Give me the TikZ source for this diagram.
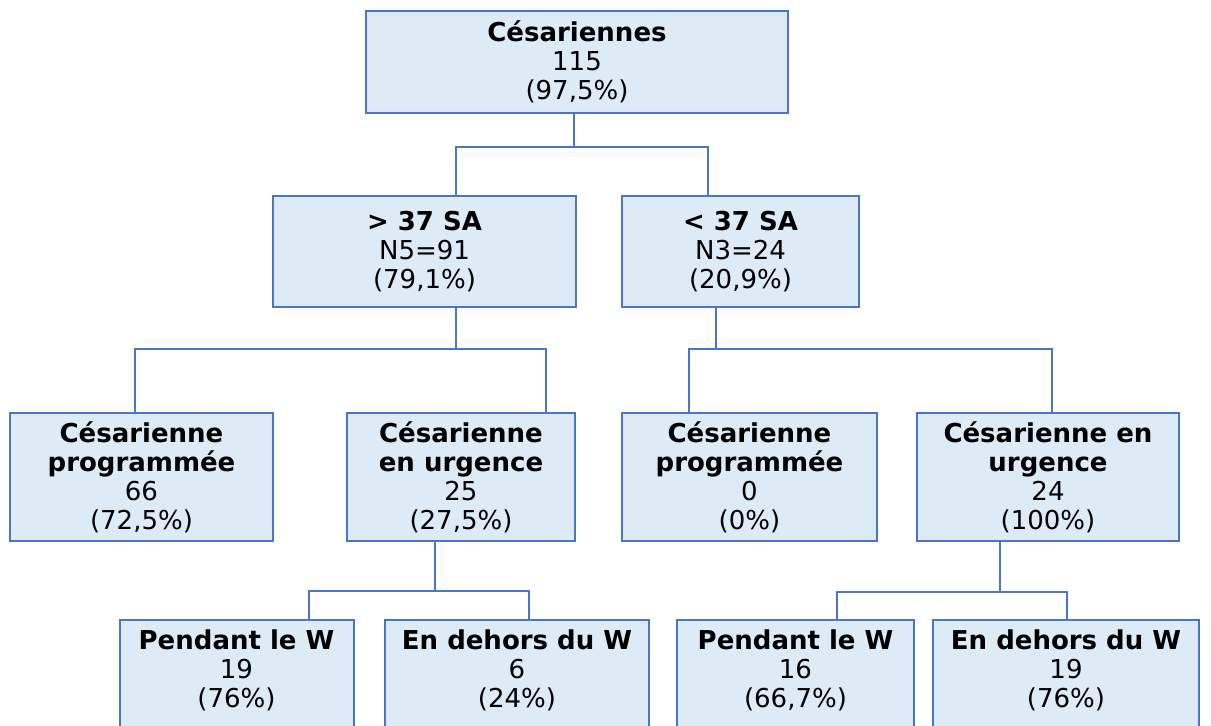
\documentclass[tikz,border=0pt]{standalone}
\usepackage{fontspec}
\setmainfont{DejaVu Sans}
\definecolor{boxfill}{HTML}{DDEBF7}
\definecolor{boxline}{HTML}{4A76C6}
\begin{document}
\begin{tikzpicture}[x=1pt,y=-1pt,
  box/.style={draw=boxline, fill=boxfill, line width=2pt, align=center, inner sep=0pt,
    font=\fontsize{26}{29}\selectfont},
  conn/.style={draw=boxline, line width=2pt}]
\useasboundingbox (0,0) rectangle (1211,726);
\clip (0,0) rectangle (1211,726);

\node[box, minimum width=422pt, minimum height=102pt] (root) at (577,62)
  {\textbf{Césariennes}\\115\\(97,5\%)};
\node[box, minimum width=303pt, minimum height=111pt] (gt) at (424.5,251.5)
  {\textbf{> 37 SA}\\N5=91\\(79,1\%)};
\node[box, minimum width=237pt, minimum height=111pt] (lt) at (740.5,251.5)
  {\textbf{< 37 SA}\\N3=24\\(20,9\%)};

\node[box, minimum width=263pt, minimum height=128pt] (p1) at (141.5,477)
  {\textbf{Césarienne}\\\textbf{programmée}\\66\\(72,5\%)};
\node[box, minimum width=228pt, minimum height=128pt] (u1) at (461,477)
  {\textbf{Césarienne}\\\textbf{en urgence}\\25\\(27,5\%)};
\node[box, minimum width=255pt, minimum height=128pt] (p2) at (749.5,477)
  {\textbf{Césarienne}\\\textbf{programmée}\\0\\(0\%)};
\node[box, minimum width=262pt, minimum height=128pt] (u2) at (1048,477)
  {\textbf{Césarienne en}\\\textbf{urgence}\\24\\(100\%)};

\node[box, minimum width=234pt, minimum height=127pt] (b1) at (236.5,683.5)
  {\textbf{Pendant le W}\\19\\(76\%)\\\mbox{}};
\node[box, minimum width=264pt, minimum height=127pt] (b2) at (517,683.5)
  {\textbf{En dehors du W}\\6\\(24\%)\\\mbox{}};
\node[box, minimum width=237pt, minimum height=127pt] (b3) at (795.5,683.5)
  {\textbf{Pendant le W}\\16\\(66,7\%)\\\mbox{}};
\node[box, minimum width=266pt, minimum height=127pt] (b4) at (1066,683.5)
  {\textbf{En dehors du W}\\19\\(76\%)\\\mbox{}};

\coordinate (j1) at (574,147);
\coordinate (x456) at (456,0);
\coordinate (x708) at (708,0);
\draw[conn] (root.south -| j1) -- (j1);
\draw[conn] (gt.north -| x456) |- (j1) -| (lt.north -| x708);

\coordinate (j2) at (456,349);
\coordinate (x135) at (135,0);
\coordinate (x546) at (546,0);
\draw[conn] (gt.south -| j2) -- (j2);
\draw[conn] (p1.north -| x135) |- (j2) -| (u1.north -| x546);

\coordinate (j3) at (716,349);
\coordinate (x689) at (689,0);
\coordinate (x1052) at (1052,0);
\draw[conn] (lt.south -| j3) -- (j3);
\draw[conn] (p2.north -| x689) |- (j3) -| (u2.north -| x1052);

\coordinate (j4) at (435,591);
\coordinate (x309) at (309,0);
\coordinate (x529) at (529,0);
\draw[conn] (u1.south -| j4) -- (j4);
\draw[conn] (b1.north -| x309) |- (j4) -| (b2.north -| x529);

\coordinate (j5) at (1000,592);
\coordinate (x837) at (837,0);
\coordinate (x1067) at (1067,0);
\draw[conn] (u2.south -| j5) -- (j5);
\draw[conn] (b3.north -| x837) |- (j5) -| (b4.north -| x1067);
\end{tikzpicture}
\end{document}
